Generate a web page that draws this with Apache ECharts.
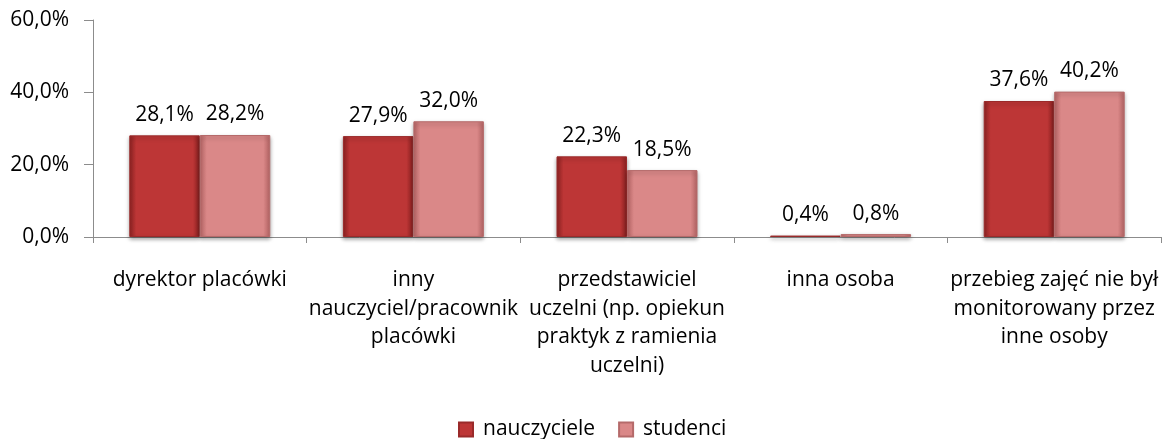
<!DOCTYPE html>
<html>
<head>
<meta charset="utf-8">
<script src="https://cdn.jsdelivr.net/npm/echarts@6/dist/echarts.min.js"></script>
<style>
  html, body { margin: 0; padding: 0; background: #fff; }
  #chart { width: 1164px; height: 439px; }
</style>
</head>
<body>
<div id="chart"></div>
<script>
// kategorie i wartości (%)
const categories = [
  'dyrektor placówki',
  'inny\nnauczyciel/pracownik\nplacówki',
  'przedstawiciel\nuczelni (np. opiekun\npraktyk z ramienia\nuczelni)',
  'inna osoba',
  'przebieg zajęć nie był\nmonitorowany przez\ninne osoby'
];
const nauczyciele = [28.1, 27.9, 22.3, 0.4, 37.6];
const studenci = [28.2, 32.0, 18.5, 0.8, 40.2];
const yTicks = [0, 20, 40, 60];

const font = '"Open Sans", sans-serif';
const fs = 21;

function fmt(v) {
  return v.toFixed(1).replace('.', ',') + '%';
}

function barGrad(edge, mid) {
  return new echarts.graphic.LinearGradient(0, 0, 1, 0, [
    { offset: 0, color: edge },
    { offset: 0.1, color: mid },
    { offset: 0.9, color: mid },
    { offset: 1, color: edge }
  ]);
}

const chart = echarts.init(document.getElementById('chart'));
chart.setOption({
  animation: false,
  textStyle: { fontFamily: font },
  grid: { left: 93, right: 3, top: 20, bottom: 202, containLabel: false },
  legend: {
    left: 453,
    top: 414,
    itemWidth: 14,
    itemHeight: 14,
    itemGap: 23,
    textStyle: { fontSize: fs, color: '#000', fontFamily: font, padding: [0, 0, 0, 5] },
    data: [
      { name: 'nauczyciele', icon: 'rect' },
      { name: 'studenci', icon: 'rect' }
    ]
  },
  xAxis: {
    type: 'category',
    data: categories,
    axisLine: { lineStyle: { color: '#8c8c8c', width: 1 } },
    axisTick: { show: true, length: 6, lineStyle: { color: '#8c8c8c' } },
    axisLabel: {
      color: '#000',
      fontSize: fs,
      lineHeight: 28.5,
      margin: 29,
      interval: 0,
      fontFamily: font
    }
  },
  yAxis: {
    type: 'value',
    min: yTicks[0],
    max: yTicks[yTicks.length - 1],
    interval: 20,
    splitLine: { show: false },
    axisLine: { show: true, lineStyle: { color: '#8c8c8c' } },
    axisTick: { show: true, length: 9, lineStyle: { color: '#8c8c8c' } },
    axisLabel: {
      color: '#000',
      fontSize: fs,
      margin: 24,
      fontFamily: font,
      formatter: function (v) { return fmt(v); }
    }
  },
  series: [
    {
      name: 'nauczyciele',
      type: 'bar',
      data: nauczyciele,
      barGap: '0%',
      barCategoryGap: '34%',
      itemStyle: {
        color: barGrad('#8e2222', '#bd3636'),
        borderColor: '#9a2a2a',
        borderWidth: 1,
        shadowColor: 'rgba(0,0,0,0.35)',
        shadowBlur: 4,
        shadowOffsetY: 2
      },
      label: {
        show: true,
        position: 'top',
        distance: 10,
        fontSize: fs,
        color: '#000',
        fontFamily: font,
        formatter: function (p) { return fmt(p.value); }
      }
    },
    {
      name: 'studenci',
      type: 'bar',
      data: studenci,
      itemStyle: {
        color: barGrad('#b86666', '#da8888'),
        borderColor: '#b56a6a',
        borderWidth: 1,
        shadowColor: 'rgba(0,0,0,0.35)',
        shadowBlur: 4,
        shadowOffsetY: 2
      },
      label: {
        show: true,
        position: 'top',
        distance: 10,
        fontSize: fs,
        color: '#000',
        fontFamily: font,
        formatter: function (p) { return fmt(p.value); }
      }
    }
  ]
});
</script>
</body>
</html>
